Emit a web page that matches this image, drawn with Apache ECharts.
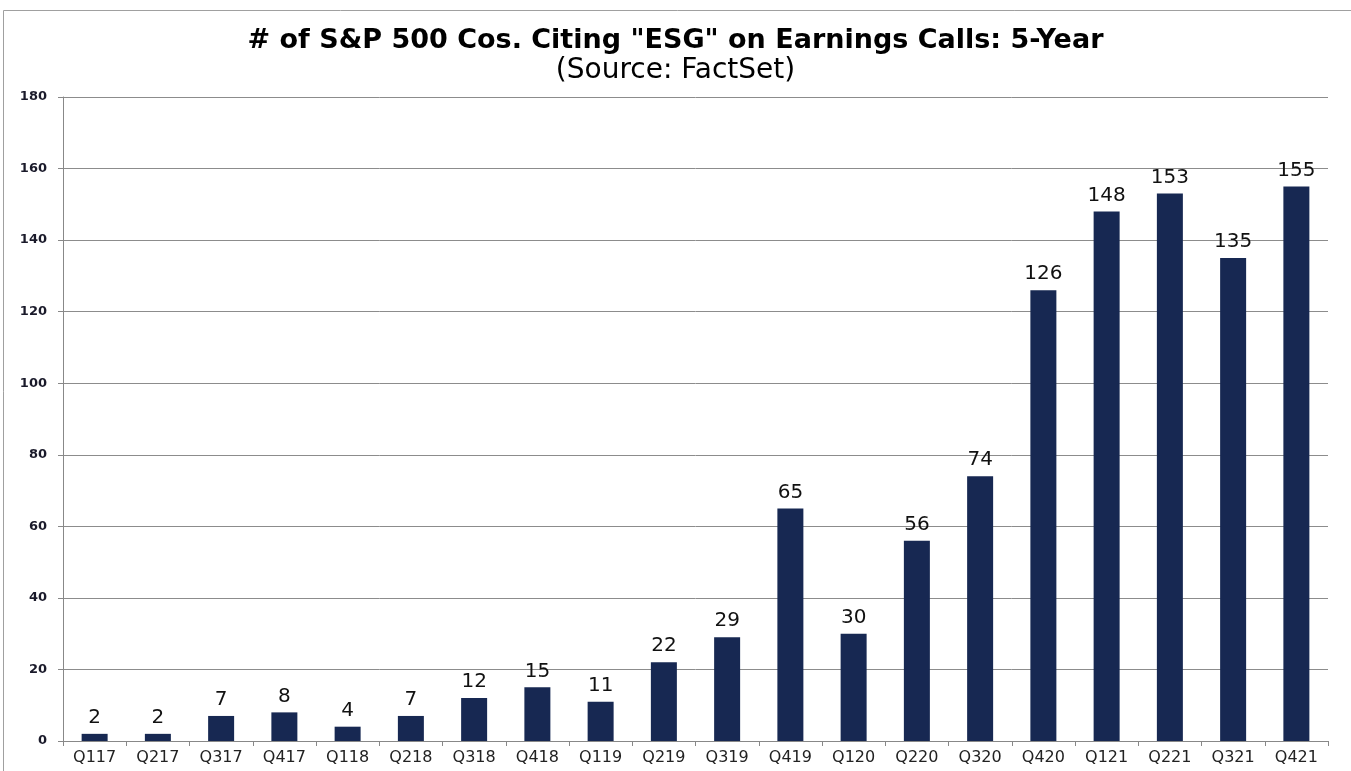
<!DOCTYPE html>
<html><head><meta charset="utf-8">
<script src="https://cdn.jsdelivr.net/npm/echarts@6/dist/echarts.min.js"></script>
<style>html,body{margin:0;padding:0;background:#fff}#c{width:1351px;height:771px}</style>
</head><body><div id="c"></div>
<script>
const categories = ["Q117","Q217","Q317","Q417","Q118","Q218","Q318","Q418","Q119","Q219","Q319","Q419","Q120","Q220","Q320","Q420","Q121","Q221","Q321","Q421"];
const esgCounts = [2,2,7,8,4,7,12,15,11,22,29,65,30,56,74,126,148,153,135,155];
const titleText = '# of S&P 500 Cos. Citing "ESG" on Earnings Calls: 5-Year';
const subtitleText = '(Source: FactSet)';

const chart = echarts.init(document.getElementById('c'));
chart.setOption({
  animation: false,
  backgroundColor: '#fff',
  graphic: [{
    type: 'rect', shape: {x: 3.5, y: 10.5, width: 1360, height: 800},
    style: {fill: 'none', stroke: '#a0a0a0', lineWidth: 1}, silent: true
  }],
  title: {
    text: titleText, subtext: subtitleText, left: 'center', top: 22, itemGap: 2,
    textStyle: {fontFamily: 'DejaVu Sans', fontWeight: 'bold', fontSize: 27, color: '#000'},
    subtextStyle: {fontFamily: 'DejaVu Sans', fontSize: 28, color: '#000', lineHeight: 30}
  },
  grid: {left: 63, right: 23, top: 97, bottom: 30},
  xAxis: {
    type: 'category', data: categories,
    axisLine: {lineStyle: {color: '#888', width: 1}},
    axisTick: {show: true, alignWithLabel: false, length: 5, lineStyle: {color: '#888'}},
    axisLabel: {fontFamily: 'DejaVu Sans', fontSize: 16, color: '#222', margin: 9, interval: 0}
  },
  yAxis: {
    type: 'value', min: 0, max: 180, interval: 20,
    axisLine: {show: true, lineStyle: {color: '#888'}},
    axisTick: {show: true, length: 5, lineStyle: {color: '#888'}},
    splitLine: {lineStyle: {color: '#8c8c8c', width: 1}},
    axisLabel: {fontFamily: 'DejaVu Sans', fontSize: 13, color: '#1a1a2a', fontWeight: 'bold', margin: 16}
  },
  series: [{
    type: 'bar', data: esgCounts, barWidth: 26,
    itemStyle: {color: '#172852'},
    label: {show: true, position: 'top', distance: 6, fontFamily: 'DejaVu Sans', fontSize: 20, color: '#111'}
  }]
});
</script></body></html>
